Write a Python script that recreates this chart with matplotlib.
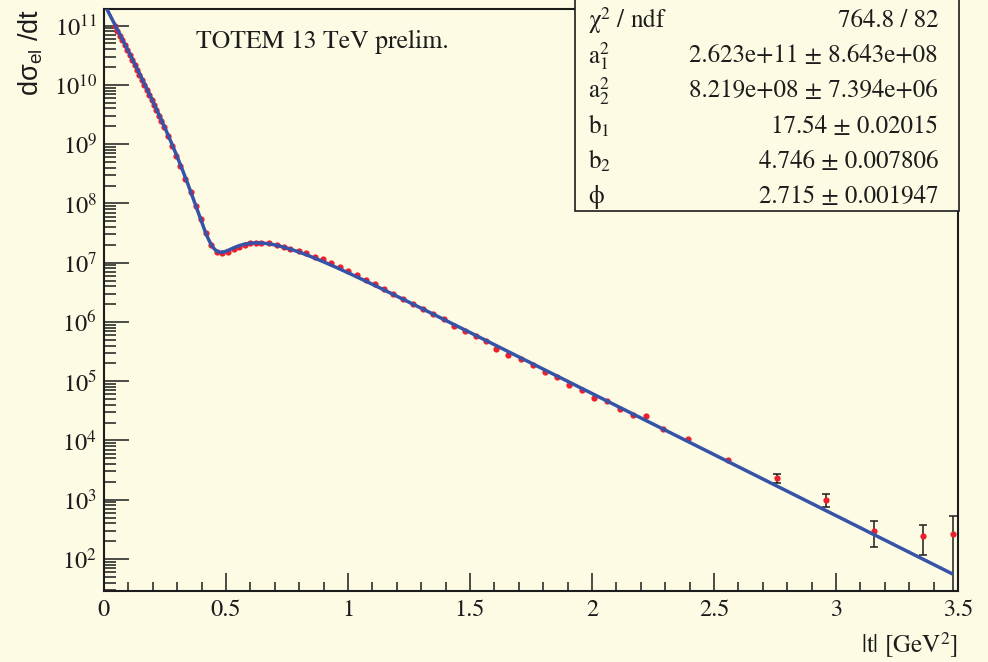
import numpy as np
import matplotlib
matplotlib.use("Agg")
import matplotlib.pyplot as plt
from matplotlib.ticker import FixedLocator, MultipleLocator, FuncFormatter, NullFormatter

plt.rcParams["mathtext.fontset"] = "stix"
plt.rcParams["font.family"] = ["STIXGeneral", "DejaVu Serif"]

# |t| bin centres [GeV^2]
t_vals = [0.045, 0.055, 0.065, 0.075, 0.085, 0.095, 0.105, 0.115, 0.125, 0.135,
          0.145, 0.155, 0.165, 0.175, 0.185, 0.195, 0.205, 0.215, 0.225, 0.235,
          0.245,
          0.262, 0.279, 0.297, 0.313, 0.334, 0.355, 0.376, 0.396, 0.416, 0.440,
          0.463, 0.484,
          0.508, 0.532, 0.553, 0.577, 0.597, 0.622, 0.645, 0.676, 0.707, 0.736,
          0.764, 0.798, 0.829, 0.864, 0.898, 0.932, 0.966, 1.000, 1.035, 1.073,
          1.110, 1.148, 1.185, 1.226, 1.267, 1.308, 1.349, 1.394, 1.435, 1.479,
          1.524, 1.567, 1.608,
          1.655, 1.710, 1.758, 1.806, 1.857, 1.906, 1.957, 2.008, 2.061, 2.114,
          2.166, 2.223, 2.291,
          2.393, 2.557, 2.758, 2.958, 3.156, 3.357, 3.480]

# d sigma_el / dt
dsig_vals = [9.8e10, 8.2e10, 6.8e10, 5.65e10, 4.67e10, 3.88e10, 3.21e10, 2.66e10,
             2.19e10, 1.81e10, 1.49e10, 1.23e10, 1.01e10, 8.3e9, 6.8e9, 5.57e9,
             4.54e9, 3.70e9, 3.01e9, 2.44e9, 1.98e9,
             1.36e9, 9.3e8, 6.2e8, 4.2e8, 2.55e8, 1.56e8, 9.0e7, 5.4e7, 3.2e7,
             1.98e7, 1.53e7, 1.45e7,
             1.53e7, 1.70e7, 1.86e7, 1.99e7, 2.13e7, 2.18e7, 2.18e7, 2.12e7,
             2.01e7, 1.86e7, 1.72e7, 1.59e7, 1.44e7, 1.26e7, 1.14e7, 9.77e6,
             8.36e6, 7.24e6, 6.12e6, 5.10e6, 4.32e6, 3.55e6, 2.93e6, 2.41e6,
             1.99e6, 1.63e6, 1.35e6, 1.11e6, 8.55e5, 7.03e5, 5.79e5, 4.71e5,
             3.50e5,
             2.80e5, 2.35e5, 1.85e5, 1.45e5, 1.19e5, 8.63e4, 7.10e4, 5.14e4,
             4.69e4, 3.40e4, 2.69e4, 2.59e4, 1.54e4,
             1.07e4, 4.68e3, 2.30e3, 990.0, 300.0, 244.0, 264.0]

# statistical uncertainties (only the large-|t| ones exceed the marker size)
dsig_errs = [0.0] * 79 + [0.0, 0.0, 375.0, 250.0, 140.0, 127.0, 267.0]

# fit result: interference of two exponentials
fit_a1sq = 2.623e11
fit_a2sq = 8.219e8
fit_b1 = 17.54
fit_b2 = 4.746
fit_phi = 2.715
fit_range = (0.0, 3.48)

stat_names = [r"χ$^2$ / ndf", r"$\mathregular{a}_1^2$", r"$\mathregular{a}_2^2$",
              r"$\mathregular{b}_1$", r"$\mathregular{b}_2$", "ϕ"]
stat_texts = ["764.8 / 82", "2.623e+11 ± 8.643e+08", "8.219e+08 ± 7.394e+06",
              "17.54 ± 0.02015", "4.746 ± 0.007806", "2.715 ± 0.001947"]


def fit_model(t):
    a1 = np.sqrt(fit_a1sq)
    a2 = np.sqrt(fit_a2sq)
    return (fit_a1sq * np.exp(-fit_b1 * t) + fit_a2sq * np.exp(-fit_b2 * t)
            + 2.0 * a1 * a2 * np.exp(-0.5 * (fit_b1 + fit_b2) * t) * np.cos(fit_phi))


BG = "#fefbe4"
INK = "#1c1c1c"
RED = "#ee1f2c"
BLUE = "#3553a8"

W, H = 988, 662
fig = plt.figure(figsize=(W / 100, H / 100), dpi=100, facecolor=BG)
x0, x1, ytop, ybot = 104, 958, 9, 591
ax = fig.add_axes([x0 / W, 1 - ybot / H, (x1 - x0) / W, (ybot - ytop) / H])
ax.set_facecolor(BG)

t = np.asarray(t_vals)
y = np.asarray(dsig_vals)
e = np.asarray(dsig_errs)

m = e > 0
ax.errorbar(t[m], y[m], yerr=e[m], fmt="none", ecolor=INK, elinewidth=1.1,
            capsize=2.6, capthick=1.1, zorder=2)
ax.plot(t, y, "o", color=RED, markersize=4.5, markeredgewidth=0, zorder=3)

tf = np.linspace(fit_range[0], fit_range[1], 1500)
ax.plot(tf, fit_model(tf), color=BLUE, lw=2.5, zorder=4, solid_capstyle="butt")

ax.set_yscale("log")
ax.set_xlim(0.0, 3.5)
ax.set_ylim(28.8, 1.91e11)

for s in ax.spines.values():
    s.set_linewidth(1.5)
    s.set_color(INK)

ax.xaxis.set_major_locator(MultipleLocator(0.5))
ax.xaxis.set_minor_locator(MultipleLocator(0.1))
ax.xaxis.set_major_formatter(FuncFormatter(lambda v, p: f"{v:g}"))
ax.yaxis.set_major_locator(FixedLocator([10.0 ** k for k in range(1, 13)]))
minors = [m_ * 10.0 ** k for k in range(1, 12) for m_ in range(2, 10)]
ax.yaxis.set_minor_locator(FixedLocator(minors))
ax.yaxis.set_minor_formatter(NullFormatter())
ax.yaxis.set_major_formatter(FuncFormatter(lambda v, p: r"$10^{%d}$" % round(np.log10(v))))

ax.tick_params(axis="x", which="major", direction="in", length=13, width=1.1,
               color=INK, labelsize=17.5, pad=6, top=False, labelcolor=INK)
ax.tick_params(axis="x", which="minor", direction="in", length=6.5, width=1.1,
               color=INK, top=False)
ax.tick_params(axis="y", which="major", direction="in", length=18, width=1.1,
               color=INK, labelsize=17.5, pad=5, right=False, labelcolor=INK)
ax.tick_params(axis="y", which="minor", direction="in", length=8.6, width=1.1,
               color=INK, right=False)

# axis titles
fig.text(31 / W, 1 - 9 / H, r"dσ$_{\mathregular{el}}$ /dt", rotation=90,
         ha="center", va="top", fontsize=19.5, color=INK,
         family=["Liberation Sans", "DejaVu Sans"], math_fontfamily="dejavusans")
fig.text(x1 / W, 1 - 645 / H, r"|t| [GeV$^2$]", ha="right", va="center",
         fontsize=18, color=INK)

fig.text(196 / W, 1 - 42 / H, "TOTEM 13 TeV prelim.", ha="left", va="center",
         fontsize=18.5, color=INK)

# fit statistics box
bx0, bx1, by0, by1 = 575, 959, -2, 211
box = plt.Rectangle((bx0 / W, 1 - by1 / H), (bx1 - bx0) / W, (by1 - by0) / H,
                    transform=fig.transFigure, facecolor=BG, edgecolor=INK,
                    lw=1.2, zorder=10)
fig.add_artist(box)
for i, (nm, tx) in enumerate(zip(stat_names, stat_texts)):
    yc = 1 - (21 + 35.2 * i) / H
    fig.text(588 / W, yc, nm, ha="left", va="center", fontsize=18, color=INK, zorder=11)
    fig.text(938 / W, yc, tx, ha="right", va="center", fontsize=18, color=INK, zorder=11)

fig.savefig("out.png", dpi=100, facecolor=BG)
